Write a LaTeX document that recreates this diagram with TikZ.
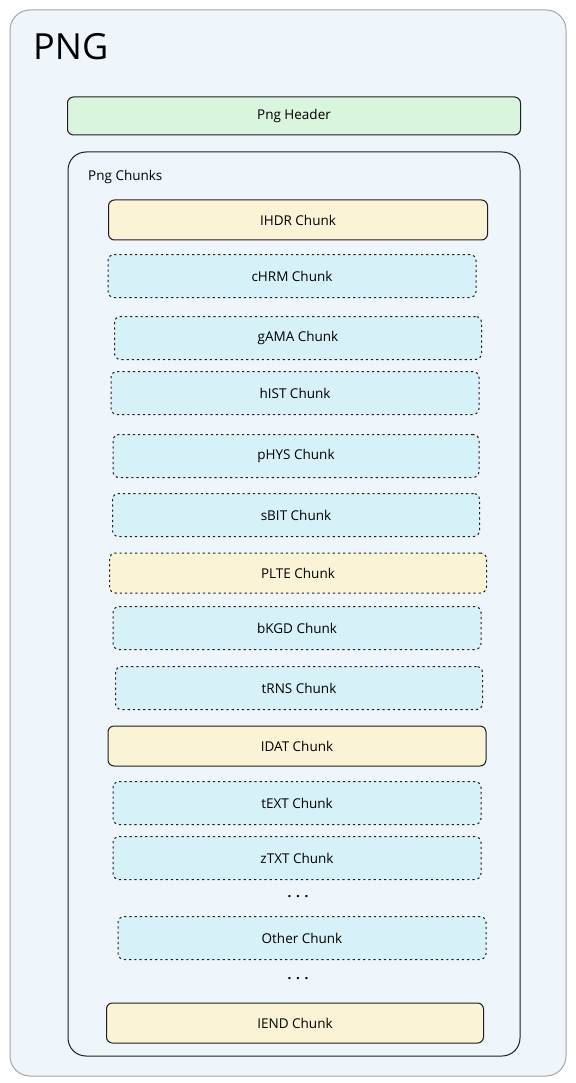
\documentclass[tikz,border=0pt]{standalone}
\usepackage{fontspec}
\setmainfont{Open Sans}
\usepackage{tikz}
\usetikzlibrary{positioning}
\definecolor{bgblue}{HTML}{EEF6FB}
\definecolor{hdrgreen}{HTML}{DAF5DE}
\definecolor{crityellow}{HTML}{FAF3D6}
\definecolor{anccyan}{HTML}{D6F1F8}
\definecolor{inkgray}{HTML}{1E1E1E}
\tikzset{
  chunkbox/.style={draw=inkgray, rounded corners=6pt, line width=1pt,
    minimum height=#1, inner sep=0pt, font=\fontsize{13.5}{15}\selectfont},
  chunkbox/.default=40pt,
  critical/.style={chunkbox, fill=crityellow},
  ancillary/.style={chunkbox=43pt, fill=anccyan, dash pattern=on 2.2pt off 3pt},
  optcritical/.style={chunkbox, fill=crityellow, dash pattern=on 2.2pt off 3pt},
  dotsline/.style={font=\fontsize{13.5}{15}\selectfont\bfseries, inner sep=0pt}
}

\begin{document}
\begin{tikzpicture}[x=1pt, y=-1pt]
    \useasboundingbox[fill=white] (0,0) rectangle (575,1083);
    % outer frame
    \node (png) [draw=gray!70, line width=1pt, fill=bgblue, rounded corners=20pt,
        minimum width=556pt, minimum height=1066pt] at (288,543) {};
    \node (title) [font=\fontsize{36}{38}\selectfont, anchor=west, inner sep=0pt] at (33,47) {PNG};
    % header
    \node (header) [chunkbox=38pt, fill=hdrgreen, minimum width=453pt] at (294,116) {Png Header};
    % chunk container
    \node (chunks) [draw=inkgray, line width=1pt, rounded corners=18pt,
        minimum width=452pt, minimum height=904pt] at (294,604) {};
    \node (chunkslabel) [font=\fontsize{13.5}{15}\selectfont, anchor=west, inner sep=0pt] at (88,177) {Png Chunks};
    % the chunks
    \node (ihdr) [critical, minimum width=379pt] at (298,220) {IHDR Chunk};
    \node (chrm) [ancillary, minimum width=368pt] at (292,276) {cHRM Chunk};
    \node (gama) [ancillary, minimum width=367pt] at (298,338) {gAMA Chunk};
    \node (hist) [ancillary, minimum width=368pt] at (295,393) {hIST Chunk};
    \node (phys) [ancillary, minimum width=366pt] at (296,456) {pHYS Chunk};
    \node (sbit) [ancillary, minimum width=367pt] at (296,515) {sBIT Chunk};
    \node (plte) [optcritical, minimum width=377pt] at (298,573) {PLTE Chunk};
    \node (bkgd) [ancillary, minimum width=368pt] at (297,628) {bKGD Chunk};
    \node (trns) [ancillary, minimum width=367pt] at (299,688) {tRNS Chunk};
    \node (idat) [critical, minimum width=378pt] at (297,746) {IDAT Chunk};
    \node (text) [ancillary, minimum width=368pt] at (297,803) {tEXT Chunk};
    \node (ztxt) [ancillary, minimum width=368pt] at (297,858) {zTXT Chunk};
    \node (dotsa) [dotsline] at (298,897) {. . .};
    \node (other) [ancillary=40pt, minimum width=368pt] at (302,938) {Other Chunk};
    \node (dotsb) [dotsline] at (298,979) {. . .};
    \node (iend) [critical, minimum width=377pt] at (295,1023) {IEND Chunk};
\end{tikzpicture}
\end{document}
